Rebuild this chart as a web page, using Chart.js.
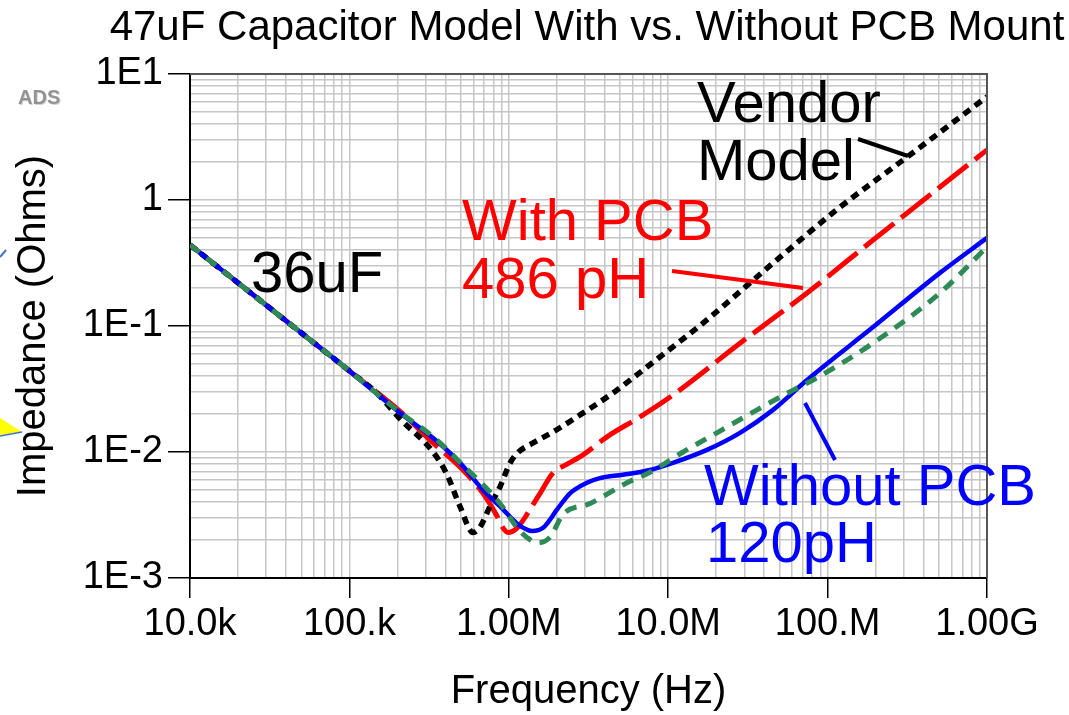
<!DOCTYPE html>
<html lang="en">
<head>
    <meta charset="UTF-8">
    <title>47uF Capacitor Model With vs. Without PCB Mount</title>
    <script src="https://cdn.jsdelivr.net/npm/chart.js"></script>
    <style>
        body { margin: 0; background: #fff; }
        canvas { display: block; }
    </style>
</head>
<body>
    <canvas id="impedanceChart" width="1069" height="715"></canvas>

    <script>
        // Values (frequency in Hz, impedance in Ohms)
        const vendorFreq = [1e4, 2e4, 5e4, 1e5, 1.5e5, 2.08e5, 3.35e5, 4.1e5, 4.94e5, 5.96e5, 6.6e5, 7.62e5, 8.81e5, 1.02e6, 1.13e6, 1.42e6, 1.89e6, 2.8e6, 4.5e6, 7.36e6, 1.75e7, 4.55e7, 1.2e8, 3.15e8, 1e9];
        const vendorZ    = [0.44, 0.22, 0.088, 0.044, 0.029, 0.0183, 0.0100, 0.0066, 0.0037, 0.0023, 0.00254, 0.0037, 0.0053, 0.0082, 0.0098, 0.0118, 0.0144, 0.0197, 0.0294, 0.0473, 0.112, 0.316, 0.88, 2.19, 6.6];

        const withPcbFreq = [1e4, 2e4, 5e4, 1e5, 2.08e5, 3.35e5, 4.94e5, 6.89e5, 8.43e5, 9.19e5, 9.88e5, 1.13e6, 1.3e6, 1.57e6, 1.89e6, 2.32e6, 2.92e6, 4.13e6, 6.65e6, 1.07e7, 2.82e7, 7.43e7, 1.93e8, 5.07e8, 1e9];
        const withPcbZ    = [0.44, 0.22, 0.088, 0.044, 0.0210, 0.0118, 0.0076, 0.0047, 0.0031, 0.0025, 0.0023, 0.0025, 0.0032, 0.0047, 0.0068, 0.0080, 0.0095, 0.0132, 0.0190, 0.0283, 0.073, 0.183, 0.481, 1.27, 2.5];

        const noPcbFreq = [1e4, 2e4, 5e4, 1e5, 2.08e5, 3.35e5, 4.94e5, 6.89e5, 8.81e5, 1.13e6, 1.32e6, 1.40e6, 1.64e6, 2.01e6, 2.42e6, 3.09e6, 3.73e6, 5.2e6, 7.69e6, 1.07e7, 1.75e7, 2.82e7, 4.55e7, 7.43e7, 1.93e8, 5.07e8, 1e9];
        const noPcbZ    = [0.44, 0.22, 0.088, 0.044, 0.0204, 0.0129, 0.0082, 0.0050, 0.0037, 0.0027, 0.0024, 0.00236, 0.0025, 0.0035, 0.0047, 0.0057, 0.0062, 0.0066, 0.0072, 0.0082, 0.0104, 0.0142, 0.0216, 0.0373, 0.098, 0.264, 0.50];

        const modelFreq = [1e4, 2e4, 5e4, 1e5, 2.08e5, 3.35e5, 4.94e5, 8.81e5, 1.13e6, 1.30e6, 1.50e6, 1.81e6, 2.19e6, 3.23e6, 5.51e6, 7.69e6, 1.24e7, 2.02e7, 3.61e7, 6.07e7, 8.1e7, 1.93e8, 5.07e8, 1e9];
        const modelZ    = [0.44, 0.22, 0.088, 0.044, 0.0206, 0.0132, 0.0083, 0.0039, 0.0025, 0.0021, 0.0019, 0.0021, 0.0032, 0.0039, 0.0057, 0.0069, 0.0100, 0.0142, 0.0216, 0.031, 0.0373, 0.0733, 0.183, 0.424];

        const xTickLabels = ['10.0k', '100.k', '1.00M', '10.0M', '100.M', '1.00G'];
        const yTickLabels = ['1E-3', '1E-2', '1E-1', '1', '1E1'];

        const FONT = '"Liberation Sans", Arial, sans-serif';

        function toPoints(xs, ys) {
            return xs.map((x, i) => ({ x: x, y: ys[i] }));
        }

        function decade(v) {
            const l = Math.log10(v);
            const e = Math.round(l);
            return Math.abs(l - e) < 1e-6 ? e : null;
        }

        // drop the 1.5x ticks Chart.js adds on log axes
        function keepDecadeSteps(scale) {
            scale.ticks = scale.ticks.filter(t => {
                const m = t.value / Math.pow(10, Math.floor(Math.log10(t.value) + 1e-9));
                return Math.abs(m - 1.5) > 1e-6;
            });
        }

        // title, annotations, frame and the bits cut off at the left edge
        const decorations = {
            id: 'decorations',
            afterDatasetsDraw(chart) {
                const ctx = chart.ctx;
                const a = chart.chartArea;
                ctx.save();

                // top & right frame
                ctx.strokeStyle = '#555';
                ctx.lineWidth = 2;
                ctx.beginPath();
                ctx.moveTo(a.left, a.top);
                ctx.lineTo(a.right, a.top);
                ctx.lineTo(a.right, a.bottom);
                ctx.stroke();

                // title
                ctx.fillStyle = '#000';
                ctx.font = '42px ' + FONT;
                ctx.textAlign = 'center';
                ctx.textBaseline = 'alphabetic';
                ctx.fillText('47uF Capacitor Model With vs. Without PCB Mount', 587, 40);

                // annotations
                ctx.textAlign = 'left';
                ctx.font = '58px ' + FONT;
                ctx.fillStyle = '#000';
                ctx.fillText('Vendor', 697, 122);
                ctx.fillText('Model', 697, 180);
                ctx.fillText('36uF', 251, 292);
                ctx.fillStyle = '#ff0000';
                ctx.fillText('With PCB', 462, 240);
                ctx.fillText('486 pH', 462, 298);
                ctx.fillStyle = '#0000ff';
                ctx.fillText('Without PCB', 704, 505);
                ctx.fillText('120pH', 706, 562);

                ctx.lineWidth = 4;
                ctx.lineCap = 'butt';
                ctx.strokeStyle = '#000';
                ctx.beginPath(); ctx.moveTo(858, 139); ctx.lineTo(908, 156); ctx.stroke();
                ctx.strokeStyle = '#ff0000';
                ctx.beginPath(); ctx.moveTo(672, 271); ctx.lineTo(803, 288); ctx.stroke();
                ctx.strokeStyle = '#0000ff';
                ctx.beginPath(); ctx.moveTo(805, 403); ctx.lineTo(835, 460); ctx.stroke();

                // "ADS" watermark
                ctx.font = 'bold 20px ' + FONT;
                ctx.fillStyle = '#d4d4d4';
                ctx.fillText('ADS', 19, 105);
                ctx.fillStyle = '#939393';
                ctx.fillText('ADS', 18, 104);

                // callout fragments on the left edge
                ctx.strokeStyle = '#4472c4';
                ctx.lineWidth = 2;
                ctx.beginPath(); ctx.moveTo(0, 257); ctx.lineTo(6, 250); ctx.stroke();
                ctx.fillStyle = '#ffff00';
                ctx.beginPath();
                ctx.moveTo(0, 418);
                ctx.lineTo(22, 432);
                ctx.lineTo(0, 435);
                ctx.closePath();
                ctx.fill();
                ctx.lineWidth = 1.5;
                ctx.beginPath(); ctx.moveTo(0, 436); ctx.lineTo(22, 432); ctx.stroke();

                ctx.restore();
            }
        };

        const ctx = document.getElementById('impedanceChart').getContext('2d');
        new Chart(ctx, {
            type: 'line',
            data: {
                datasets: [
                    {
                        label: 'Model',
                        data: toPoints(modelFreq, modelZ),
                        borderColor: '#2e8b57',
                        borderWidth: 5,
                        borderDash: [12, 9]
                    },
                    {
                        label: 'Without PCB',
                        data: toPoints(noPcbFreq, noPcbZ),
                        borderColor: '#0000ff',
                        borderWidth: 4.5
                    },
                    {
                        label: 'Vendor Model',
                        data: toPoints(vendorFreq, vendorZ),
                        borderColor: '#000000',
                        borderWidth: 5.5,
                        borderDash: [8, 6]
                    },
                    {
                        label: 'With PCB',
                        data: toPoints(withPcbFreq, withPcbZ),
                        borderColor: '#ff0000',
                        borderWidth: 5,
                        borderDash: [38, 9]
                    }
                ]
            },
            options: {
                responsive: false,
                animation: false,
                layout: { padding: { left: 0, top: 74, right: 82, bottom: 0 } },
                elements: {
                    point: { radius: 0 },
                    line: { cubicInterpolationMode: 'monotone', fill: false }
                },
                plugins: {
                    legend: { display: false },
                    tooltip: { enabled: false }
                },
                scales: {
                    x: {
                        type: 'logarithmic',
                        min: 1e4,
                        max: 1e9,
                        afterFit: s => { s.height = 137; },
                        afterBuildTicks: keepDecadeSteps,
                        border: { color: '#000', width: 2 },
                        grid: {
                            color: '#c6c6c6',
                            lineWidth: 1.5,
                            tickLength: 20,
                            tickColor: c => decade(c.tick.value) !== null ? '#000' : 'rgba(0,0,0,0)',
                            tickWidth: 1.5
                        },
                        ticks: {
                            autoSkip: false,
                            maxRotation: 0,
                            minRotation: 0,
                            padding: 4,
                            color: '#000',
                            font: { family: FONT, size: 38 },
                            callback: v => {
                                const e = decade(v);
                                return e === null ? '' : xTickLabels[e - 4];
                            }
                        },
                        title: {
                            display: true,
                            text: 'Frequency (Hz)',
                            color: '#000',
                            font: { family: FONT, size: 40, lineHeight: 1 },
                            padding: { top: 0, bottom: 3 }
                        }
                    },
                    y: {
                        type: 'logarithmic',
                        min: 1e-3,
                        max: 10,
                        afterFit: s => { s.width = 190; },
                        afterBuildTicks: keepDecadeSteps,
                        border: { color: '#000', width: 2 },
                        grid: {
                            color: '#c6c6c6',
                            lineWidth: 1.5,
                            tickLength: 22,
                            tickColor: c => decade(c.tick.value) !== null ? '#000' : 'rgba(0,0,0,0)',
                            tickWidth: 1.5
                        },
                        ticks: {
                            autoSkip: false,
                            padding: 5,
                            color: '#000',
                            font: { family: FONT, size: 38 },
                            callback: v => {
                                const e = decade(v);
                                return e === null ? '' : yTickLabels[e + 3];
                            }
                        },
                        title: {
                            display: true,
                            text: 'Impedance (Ohms)',
                            color: '#000',
                            font: { family: FONT, size: 40, lineHeight: 1 },
                            padding: { top: 14, bottom: 0 }
                        }
                    }
                }
            },
            plugins: [decorations]
        });
    </script>
</body>
</html>
